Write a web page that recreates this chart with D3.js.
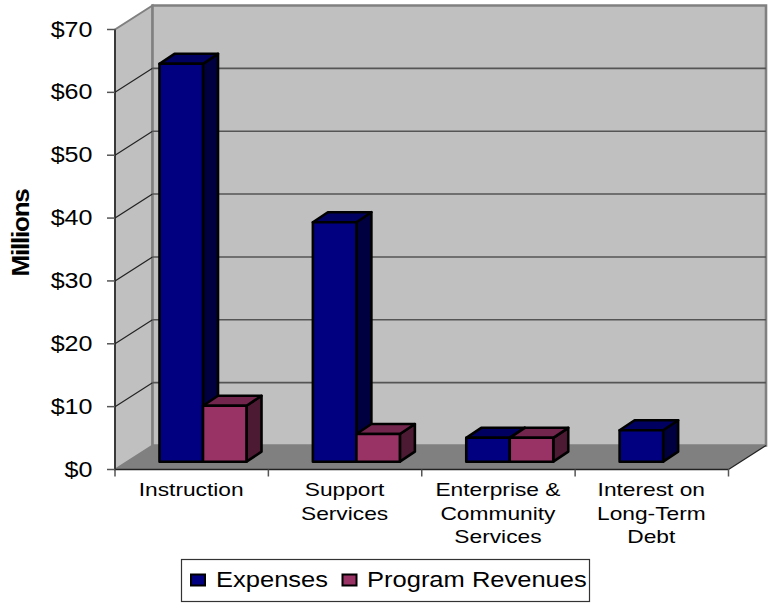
<!DOCTYPE html>
<html>
<head>
<meta charset="utf-8">
<script src="https://cdn.jsdelivr.net/npm/d3@7/dist/d3.min.js"></script>
<style>
html,body{margin:0;padding:0;background:#fff;}
svg{display:block;}
text{font-family:"Liberation Sans",Arial,sans-serif;fill:#000;}
</style>
</head>
<body>
<svg id="chart" width="772" height="603"></svg>
<script>
const categories = [["Instruction"],["Support","Services"],["Enterprise &","Community","Services"],["Interest on","Long-Term","Debt"]];
const categoryKeys = ["Instruction","Support Services","Enterprise & Community Services","Interest on Long-Term Debt"];
const seriesNames = ["Expenses","Program Revenues"];
const expenses = [63.3,38.1,3.8,5.0];
const programRevenues = [8.9,4.4,3.8,null];
const yTicks = [0,10,20,30,40,50,60,70];

const colors = {
  Expenses:{front:"#000080",side:"#000040",top:"#000060"},
  "Program Revenues":{front:"#993366",side:"#4d1a33",top:"#73264d"}
};

const svg = d3.select("#chart");
const floorFront = 469.5, wallTop = 29.5, xLeft = 115, xRight = 728.5;
const wallDx = 37.5, wallDy = -24;
const barDx = 15, barDy = -10;
const barBase = 461.7;

const y = d3.scaleLinear().domain([0,70]).range([floorFront,wallTop]);
const x = d3.scaleBand().domain(categoryKeys).range([xLeft,xRight]).paddingInner(0).paddingOuter(0);
const inner = d3.scaleBand().domain(seriesNames).range([0,87]);
const barLeftInset = 44.5;

const poly = pts => d3.line()(pts) + "Z";

// 3D walls and floor
const wallColor = "#c0c0c0", floorColor = "#808080", edge = "#808080";
svg.append("path").attr("fill",wallColor).attr("stroke",edge).attr("stroke-width",2)
  .attr("d",poly([[xLeft,floorFront],[xLeft,wallTop],[xLeft+wallDx,wallTop+wallDy],[xLeft+wallDx,floorFront+wallDy]]));
svg.append("path").attr("fill",wallColor).attr("stroke",edge).attr("stroke-width",2.6)
  .attr("d",poly([[xLeft+wallDx,wallTop+wallDy],[xRight+wallDx,wallTop+wallDy],[xRight+wallDx,floorFront+wallDy],[xLeft+wallDx,floorFront+wallDy]]));
svg.append("path").attr("fill",floorColor).attr("stroke","none")
  .attr("d",poly([[xLeft,floorFront],[xLeft+wallDx,floorFront+wallDy],[xRight+wallDx,floorFront+wallDy],[xRight,floorFront]]));

// Gridlines on side and back walls
yTicks.slice(1,-1).forEach(t=>{
  svg.append("line").attr("x1",xLeft).attr("y1",y(t)).attr("x2",xLeft+wallDx).attr("y2",y(t)+wallDy)
    .attr("stroke","#222").attr("stroke-width",1.2);
  svg.append("line").attr("x1",xLeft+wallDx).attr("y1",y(t)+wallDy).attr("x2",xRight+wallDx).attr("y2",y(t)+wallDy)
    .attr("stroke","#555").attr("stroke-width",1.6);
});

// Right-hand floor edge
svg.append("line").attr("x1",xRight).attr("y1",floorFront).attr("x2",xRight+wallDx).attr("y2",floorFront+wallDy)
  .attr("stroke","#222").attr("stroke-width",1.2);

// Axes
const axisY = svg.append("g");
axisY.append("line").attr("x1",xLeft).attr("x2",xLeft).attr("y1",wallTop).attr("y2",floorFront).attr("stroke","#222").attr("stroke-width",1.5);
yTicks.forEach(t=>{
  axisY.append("line").attr("x1",xLeft-8).attr("x2",xLeft).attr("y1",y(t)).attr("y2",y(t)).attr("stroke","#555").attr("stroke-width",1.5);
  axisY.append("text").attr("text-anchor","end").attr("font-size",22)
    .attr("transform",`translate(92.5,${y(t)+7}) scale(1.14,1)`).text("$"+t);
});
const axisX = svg.append("g");
axisX.append("line").attr("x1",xLeft).attr("x2",xRight).attr("y1",floorFront).attr("y2",floorFront).attr("stroke","#222").attr("stroke-width",1.5);
[...categoryKeys.map(k=>x(k)),xRight].forEach(px=>{
  axisX.append("line").attr("x1",px).attr("x2",px).attr("y1",floorFront).attr("y2",floorFront+7).attr("stroke","#555").attr("stroke-width",1.5);
});
categoryKeys.forEach((k,i)=>{
  categories[i].forEach((ln,j)=>{
    axisX.append("text").attr("text-anchor","middle").attr("font-size",17.5)
      .attr("transform",`translate(${x(k)+x.bandwidth()/2 - 0.5},${496+j*23.7}) scale(1.3,1)`).text(ln);
  });
});

// Bars, drawn back-to-front within each category
const bars = svg.append("g");
function drawBar(k,name,v){
  if(v==null) return;
  const c = colors[name];
  const x0 = x(k)+barLeftInset+inner(name), x1 = x0+inner.bandwidth();
  const y0 = barBase - (y(0)-y(v)), y1 = barBase;
  const g = bars.append("g").attr("stroke","#000").attr("stroke-width",2.6).attr("stroke-linejoin","round");
  g.append("path").attr("fill",c.side).attr("d",poly([[x1,y0],[x1+barDx,y0+barDy],[x1+barDx,y1+barDy],[x1,y1]]));
  g.append("path").attr("fill",c.top).attr("d",poly([[x0,y0],[x0+barDx,y0+barDy],[x1+barDx,y0+barDy],[x1,y0]]));
  g.append("path").attr("fill",c.front).attr("d",poly([[x0,y0],[x1,y0],[x1,y1],[x0,y1]]));
}
categoryKeys.forEach((k,i)=>{
  drawBar(k,"Expenses",expenses[i]);
  drawBar(k,"Program Revenues",programRevenues[i]);
});

// Rotated axis title
svg.append("text").attr("text-anchor","middle").attr("font-size",26).attr("font-weight","bold")
  .attr("transform","translate(29,233) rotate(-90) scale(1,0.92)").attr("letter-spacing",-1.2).text("Millions");

// Legend
const legend = svg.append("g");
legend.append("rect").attr("x",181.5).attr("y",559.5).attr("width",408).attr("height",42)
  .attr("fill","#fff").attr("stroke","#333").attr("stroke-width",1.2);
const legendItems = [[191,216],[342.5,367]];
seriesNames.forEach((n,i)=>{
  legend.append("rect").attr("x",legendItems[i][0]).attr("y",574.5).attr("width",14).attr("height",11)
    .attr("fill",colors[n].front).attr("stroke","#000").attr("stroke-width",2);
  legend.append("text").attr("font-size",22)
    .attr("transform",`translate(${legendItems[i][1]},586.5) scale(1.16,1)`).text(n);
});
</script>
</body>
</html>
